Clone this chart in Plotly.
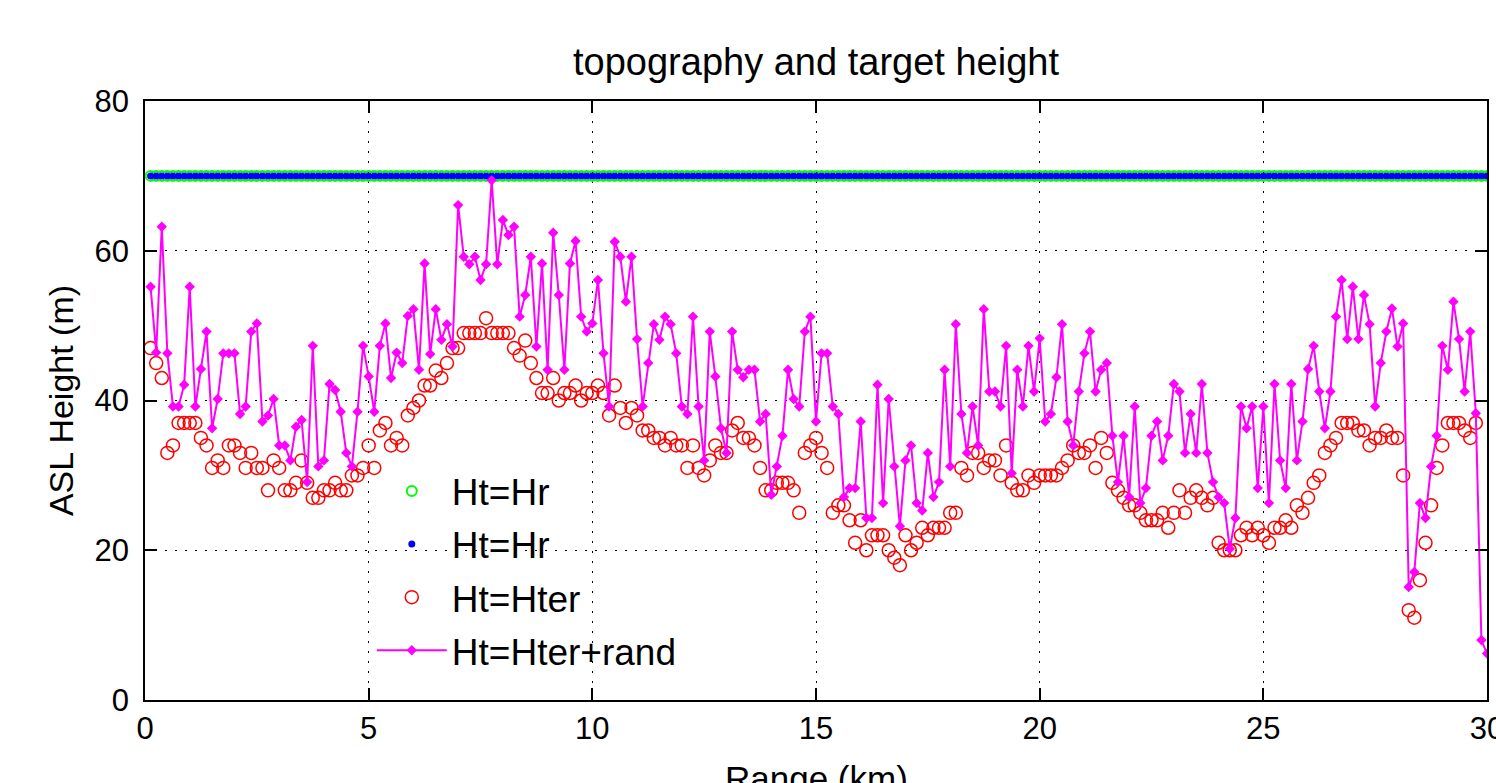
import plotly.graph_objects as go

# Range bins (km) and heights above sea level (m)
range_km = [0.125 * (i + 1) for i in range(240)]

# Target held at radar height
ht_r = [70] * len(range_km)

# Terrain height along the path
ht_ter = [
    47, 45, 43, 33, 34, 37, 37, 37, 37, 35, 34, 31, 32, 31, 34, 34, 33, 31, 33, 31,
    31, 28, 32, 31, 28, 28, 29, 32, 29, 27, 27, 28, 28, 29, 28, 28, 30, 30, 31, 34,
    31, 36, 37, 34, 35, 34, 38, 39, 40, 42, 42, 44, 43, 45, 47, 47, 49, 49, 49, 49,
    51, 49, 49, 49, 49, 47, 46, 48, 45, 43, 41, 41, 43, 40, 41, 41, 42, 40, 41, 41,
    42, 41, 38, 42, 39, 37, 39, 38, 36, 36, 35, 35, 34, 35, 34, 34, 31, 34, 31, 30,
    32, 34, 33, 33, 36, 37, 35, 35, 34, 31, 28, 28, 29, 29, 29, 28, 25, 33, 34, 35,
    33, 31, 25, 26, 26, 24, 21, 24, 20, 22, 22, 22, 20, 19, 18, 22, 20, 21, 23, 22,
    23, 23, 23, 25, 25, 31, 30, 33, 33, 31, 32, 32, 30, 34, 29, 28, 28, 30, 29, 30,
    30, 30, 30, 31, 32, 34, 33, 33, 34, 31, 35, 33, 29, 28, 27, 26, 26, 25, 24, 24,
    24, 25, 23, 25, 28, 25, 27, 28, 27, 26, 27, 21, 20, 20, 20, 22, 23, 22, 23, 22,
    21, 23, 23, 24, 23, 26, 25, 27, 29, 30, 33, 34, 35, 37, 37, 37, 36, 36, 34, 35,
    35, 36, 35, 35, 30, 12, 11, 16, 21, 26, 31, 34, 37, 37, 37, 36, 35, 37, None, None,
]

# Terrain height plus random offset
ht_rand = [
    55.2, 46.4, 63.2, 46.3, 39.2, 39.2, 42.1, 55.2, 39.2, 44.2, 49.2, 36.3, 40.2, 46.3, 46.3, 46.3, 38.2, 39.2, 49.2, 50.3,
    37.2, 38.0, 40.2, 34.0, 34.0, 32.0, 36.5, 37.4, 29.1, 47.3, 31.2, 32.0, 42.2, 41.4, 38.5, 33.0, 31.2, 38.5, 47.3, 43.2,
    38.5, 47.3, 50.3, 43.0, 46.4, 45.0, 51.3, 52.2, 44.1, 58.3, 46.2, 52.2, 48.1, 50.2, 47.2, 66.1, 59.2, 58.2, 59.2, 56.1,
    58.2, 69.4, 58.2, 64.1, 62.1, 63.2, 51.2, 54.1, 59.2, 47.2, 58.3, 44.1, 62.4, 54.1, 44.1, 58.3, 61.3, 51.2, 49.2, 50.3,
    56.1, 46.3, 39.2, 61.2, 59.2, 53.2, 59.2, 48.2, 39.2, 45.0, 50.2, 48.1, 51.2, 50.2, 46.3, 39.2, 38.2, 51.2, 39.2, 32.0,
    49.2, 43.2, 36.3, 33.0, 49.2, 44.1, 43.1, 44.1, 44.1, 37.2, 38.2, 27.4, 31.2, 35.3, 44.1, 40.2, 39.2, 49.2, 51.2, 37.2,
    46.3, 46.3, 39.2, 38.2, 27.1, 28.3, 28.3, 37.2, 24.3, 24.3, 42.1, 26.3, 40.2, 31.2, 23.2, 32.0, 34.0, 26.3, 25.3, 33.0,
    27.1, 29.1, 44.1, 31.2, 50.2, 38.2, 33.0, 39.2, 34.0, 52.2, 41.2, 41.2, 39.2, 47.3, 30.3, 44.1, 39.2, 47.3, 41.2, 48.3,
    37.2, 38.2, 43.1, 50.2, 37.2, 34.0, 41.2, 46.3, 49.2, 41.2, 44.1, 45.0, 35.3, 29.1, 35.3, 27.1, 39.2, 26.3, 28.3, 35.3,
    37.2, 32.0, 35.3, 42.2, 41.2, 33.0, 38.2, 33.0, 42.2, 33.0, 29.1, 27.1, 26.3, 20.2, 24.3, 39.2, 36.3, 39.2, 28.3, 39.2,
    26.3, 42.2, 32.0, 28.3, 42.2, 32.0, 37.2, 44.2, 47.3, 41.2, 36.3, 41.2, 51.2, 56.1, 48.2, 55.2, 48.2, 54.1, 50.2, 39.2,
    45.0, 49.2, 52.3, 47.2, 50.3, 15.1, 17.1, 26.3, 24.3, 31.2, 35.3, 47.3, 44.1, 53.2, 48.2, 41.2, 49.2, 38.3, 8.0, 6.2,
]

x_ticks = [0, 5, 10, 15, 20, 25, 30]
y_ticks = [0, 20, 40, 60, 80]

FONT = "Liberation Sans, Arial, sans-serif"

fig = go.Figure()

fig.add_trace(go.Scatter(
    x=range_km, y=ht_r, mode="markers", name="Ht=Hr", legendgroup="g1",
    marker=dict(symbol="circle-open", color="#00ff00", size=10, line=dict(width=2)),
))
fig.add_trace(go.Scatter(
    x=range_km, y=ht_r, mode="markers", name="Ht=Hr", legendgroup="g2",
    marker=dict(symbol="circle", color="#0000ff", size=7),
))
fig.add_trace(go.Scatter(
    x=range_km, y=ht_ter, mode="markers", name="Ht=Hter", legendgroup="g3",
    marker=dict(symbol="circle-open", color="#ff0000", size=13, line=dict(width=1.5)),
))
fig.add_trace(go.Scatter(
    x=range_km, y=ht_rand, mode="lines+markers", name="Ht=Hter+rand", legendgroup="g4",
    line=dict(color="#ff00ff", width=2),
    marker=dict(symbol="diamond", color="#ff00ff", size=8),
))

axis_common = dict(
    showline=True, linecolor="black", linewidth=1.5, mirror="ticks",
    ticks="inside", ticklen=12, tickwidth=1.5, tickcolor="black",
    showgrid=True, gridcolor="black", gridwidth=1, griddash="2px,8px",
    zeroline=False, automargin=False, ticklabeloverflow="allow",
    tickfont=dict(family=FONT, size=31, color="black"),
)

fig.update_layout(
    width=1496, height=783,
    margin=dict(l=145, r=9, t=101, b=83),
    paper_bgcolor="white", plot_bgcolor="white",
    font=dict(family=FONT, color="black"),
    title=dict(
        text="topography and target height",
        x=(145 + 1487) / 2 / 1496, xanchor="center",
        y=1 - 62 / 783, yanchor="middle", yref="container",
        font=dict(family=FONT, size=38, color="black"),
    ),
    xaxis=dict(
        range=[0, 30], tickvals=x_ticks, ticktext=[str(v) for v in x_ticks],
        ticklabelstandoff=0,
        **axis_common,
    ),
    yaxis=dict(
        range=[0, 80], tickvals=y_ticks, ticktext=[str(v) for v in y_ticks],
        title=dict(text="ASL Height (m)", font=dict(family=FONT, size=34), standoff=11),
        ticklabelstandoff=8,
        **axis_common,
    ),
    legend=dict(
        x=0.169, y=0.40, xanchor="left", yanchor="top",
        bgcolor="rgba(0,0,0,0)", borderwidth=0,
        font=dict(family=FONT, size=37, color="black"),
        tracegroupgap=2, itemwidth=70,
    ),
    showlegend=True,
    annotations=[dict(
        text="Range (km)", xref="paper", yref="paper",
        x=0.5, y=-78 / 599, xanchor="center", yanchor="middle",
        showarrow=False, font=dict(family=FONT, size=35, color="black"),
    )],
)

fig.write_html("out.html")
